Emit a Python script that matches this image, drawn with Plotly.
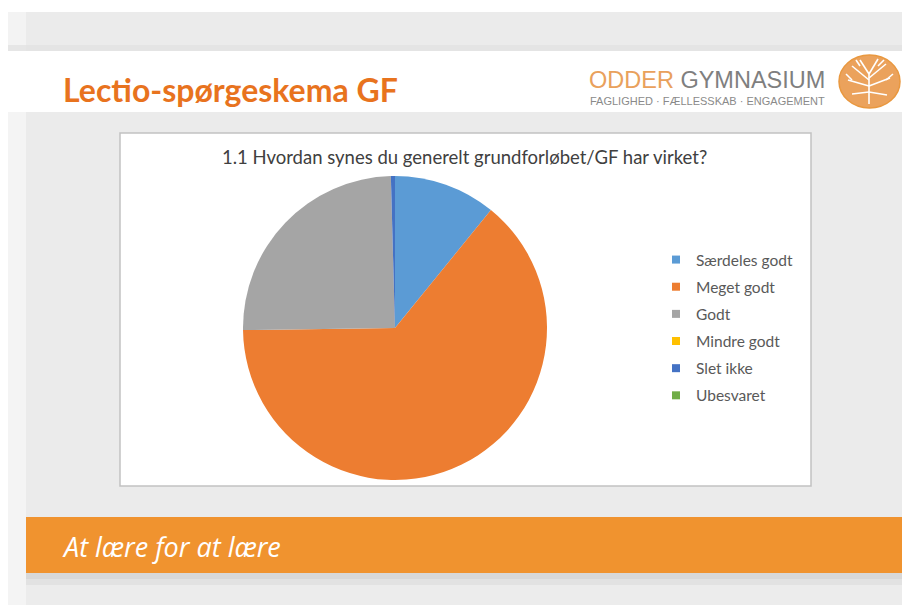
import plotly.graph_objects as go

# ---- data ----
categories = ["Særdeles godt", "Meget godt", "Godt", "Mindre godt", "Slet ikke", "Ubesvaret"]
counts = [25, 147, 57, 0, 1, 0]
colors = ["#5B9BD5", "#ED7D31", "#A5A5A5", "#FFC000", "#4472C4", "#70AD47"]
chart_title = "1.1 Hvordan synes du generelt grundforløbet/GF har virket?"
slide_title = "Lectio-spørgeskema GF"
logo_name_a = "ODDER"
logo_name_b = "GYMNASIUM"
logo_tagline = "FAGLIGHED · FÆLLESSKAB · ENGAGEMENT"
footer_text = "At lære for at lære"

# page body has an 8px margin; figure is sized to fill the rest of the window
OFF = 8
W, H = 910 - OFF, 605 - OFF


def px(x):
    return (x - OFF) / W


def py(y):
    return 1 - (y - OFF) / H


def rect(x0, y0, x1, y1, fill, line_color=None, line_width=0, opacity=1, layer="below"):
    return dict(type="rect", xref="paper", yref="paper",
                x0=px(x0), x1=px(x1), y0=py(y1), y1=py(y0),
                fillcolor=fill, opacity=opacity, layer=layer,
                line=dict(color=line_color or fill, width=line_width))


shapes = [
    # top grey band
    rect(8, 12, 905, 51, "#ebebeb"),
    rect(8, 12, 26, 51, "#f3f3f3"),
    rect(8, 45, 905, 51, "#e2e2e2", opacity=0.8),
    # body
    rect(8, 112, 905, 517, "#ebebeb"),
    rect(8, 112, 26, 605, "#f4f4f4"),
    rect(26, 573, 905, 605, "#ececec"),
    # shadow under orange band
    rect(26, 573, 905, 579, "#d6d6d6", opacity=0.9),
    rect(26, 579, 905, 585, "#e1e1e1", opacity=0.9),
    # orange band
    rect(26, 517, 905, 573, "#F0932F"),
    # chart box
    rect(120, 133, 811, 486, "#ffffff", line_color="#c2c2c2", line_width=1.5),
    # logo circle
    dict(type="circle", xref="paper", yref="paper",
         x0=px(839), x1=px(900), y0=py(108), y1=py(55),
         fillcolor="#EBA25C", line=dict(color="#E9983F", width=1.5), layer="above"),
]

# simple tree lines inside the logo
tree_segments = [
    (869, 104, 869, 72), (869, 80, 852, 66), (869, 78, 886, 64),
    (869, 86, 848, 80), (869, 86, 890, 78), (869, 74, 860, 60),
    (869, 74, 878, 59), (869, 92, 852, 94), (869, 92, 887, 95),
    (860, 66, 856, 60), (878, 66, 884, 60), (852, 80, 846, 74),
    (886, 80, 893, 74),
]
for x0, y0, x1, y1 in tree_segments:
    shapes.append(dict(type="line", xref="paper", yref="paper",
                       x0=px(x0), y0=py(y0), x1=px(x1), y1=py(y1),
                       line=dict(color="#ffffff", width=1.6), layer="above"))

fig = go.Figure()

R = 152
fig.add_trace(go.Pie(
    labels=categories,
    values=counts,
    marker=dict(colors=colors, line=dict(width=0)),
    sort=False,
    direction="clockwise",
    rotation=0,
    textinfo="none",
    hoverinfo="label+value+percent",
    showlegend=False,
    domain=dict(x=[px(395 - R), px(395 + R)], y=[py(328 + R), py(328 - R)]),
))

# legend entries (one per answer category)
for c, col in zip(categories, colors):
    fig.add_trace(go.Scatter(
        x=[None], y=[None], mode="markers", name=c, legendgroup=c,
        marker=dict(symbol="square", size=8, color=col),
        showlegend=True, hoverinfo="skip",
    ))

annotations = [
    dict(text=slide_title, x=px(61), y=py(89), xref="paper", yref="paper",
         xanchor="left", yanchor="middle", showarrow=False,
         font=dict(family="Lato", size=32, color="#E8731E", weight="bold")),
    dict(text=f"<span style='color:#E9A15C'>{logo_name_a}</span> {logo_name_b}",
         x=px(827), y=py(80), xref="paper", yref="paper",
         xanchor="right", yanchor="middle", showarrow=False,
         font=dict(family="Liberation Sans", size=23.5, color="#7f7f7f")),
    dict(text=logo_tagline, x=px(827), y=py(101), xref="paper", yref="paper",
         xanchor="right", yanchor="middle", showarrow=False,
         font=dict(family="Liberation Sans", size=11, color="#8a8a8a")),
    dict(text=chart_title, x=px(465), y=py(157), xref="paper", yref="paper",
         xanchor="center", yanchor="middle", showarrow=False,
         font=dict(family="Lato", size=18.5, color="#404040")),
    dict(text=f"<i>{footer_text}</i>", x=px(60), y=py(546), xref="paper", yref="paper",
         xanchor="left", yanchor="middle", showarrow=False,
         font=dict(family="Open Sans", size=27, color="#ffffff")),
]

fig.update_layout(
    width=W, height=H,
    margin=dict(l=0, r=0, t=0, b=0),
    paper_bgcolor="#ffffff",
    plot_bgcolor="rgba(0,0,0,0)",
    xaxis=dict(visible=False), yaxis=dict(visible=False),
    shapes=shapes,
    annotations=annotations,
    showlegend=True,
    legend=dict(x=px(656), y=py(243), xanchor="left", yanchor="top",
                bgcolor="rgba(0,0,0,0)", traceorder="grouped", tracegroupgap=4,
                font=dict(family="Lato", size=15.5, color="#595959"),
                itemclick=False, itemdoubleclick=False),
)

fig.write_html("out.html")
